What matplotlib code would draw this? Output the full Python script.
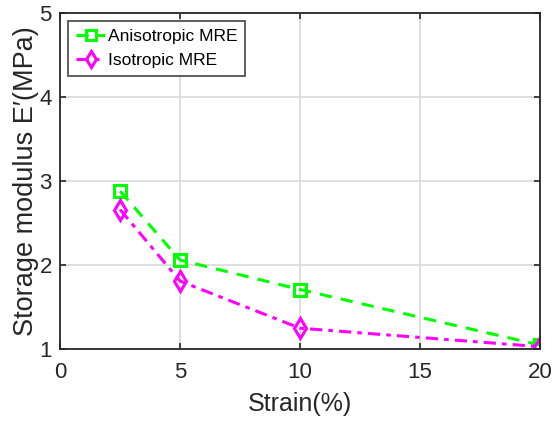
import matplotlib.pyplot as plt

plt.rcParams["font.family"] = ["Liberation Sans", "DejaVu Sans"]

# data
strain = [2.5, 5, 10, 20]
aniso = [2.88, 2.06, 1.71, 1.05]
iso = [2.66, 1.81, 1.25, 1.03]
xticks = [0, 5, 10, 15, 20]
yticks = [1, 2, 3, 4, 5]

fig = plt.figure(figsize=(5.52, 4.29), dpi=100)
ax = fig.add_axes([0.109, 0.186, 0.869, 0.784])

ax.plot(strain, aniso, color="#00ff00", ls="--", lw=2.2, marker="s", ms=9,
        mfc="none", mew=2.2, label="Anisotropic MRE", dashes=(4, 3))
ax.plot(strain, iso, color="#ff00ff", ls="-.", lw=2.2, marker="d", ms=10,
        mfc="none", mew=2.2, label="Isotropic MRE", dashes=(4, 2, 1.5, 2))

ax.set_xlim(0, 20)
ax.set_ylim(1, 5)
ax.set_xticks(xticks)
ax.set_yticks(yticks)
ax.tick_params(direction="in", top=True, right=True, labelsize=16,
               length=4, width=1.2, colors="#262626")
ax.tick_params(axis="x", pad=9)
ax.tick_params(axis="y", pad=6)
for s in ax.spines.values():
    s.set_color("#262626")
    s.set_linewidth(1.3)
ax.grid(True, color="#d9d9d9", lw=1.2)
ax.set_axisbelow(True)

ax.set_xlabel("Strain(%)", fontsize=18, color="#262626", labelpad=7)
ax.set_ylabel("Storage modulus E\u2032(MPa)", fontsize=19.5, color="#262626", labelpad=0)

leg = ax.legend(loc="upper left", fontsize=12.5, frameon=True, fancybox=False,
                edgecolor="#262626", handlelength=1.7, handletextpad=0.15,
                borderpad=0.45, labelspacing=0.55, borderaxespad=0.45,
                markerscale=0.8)
leg.get_frame().set_linewidth(1.3)

fig.savefig("out.png", dpi=100)
